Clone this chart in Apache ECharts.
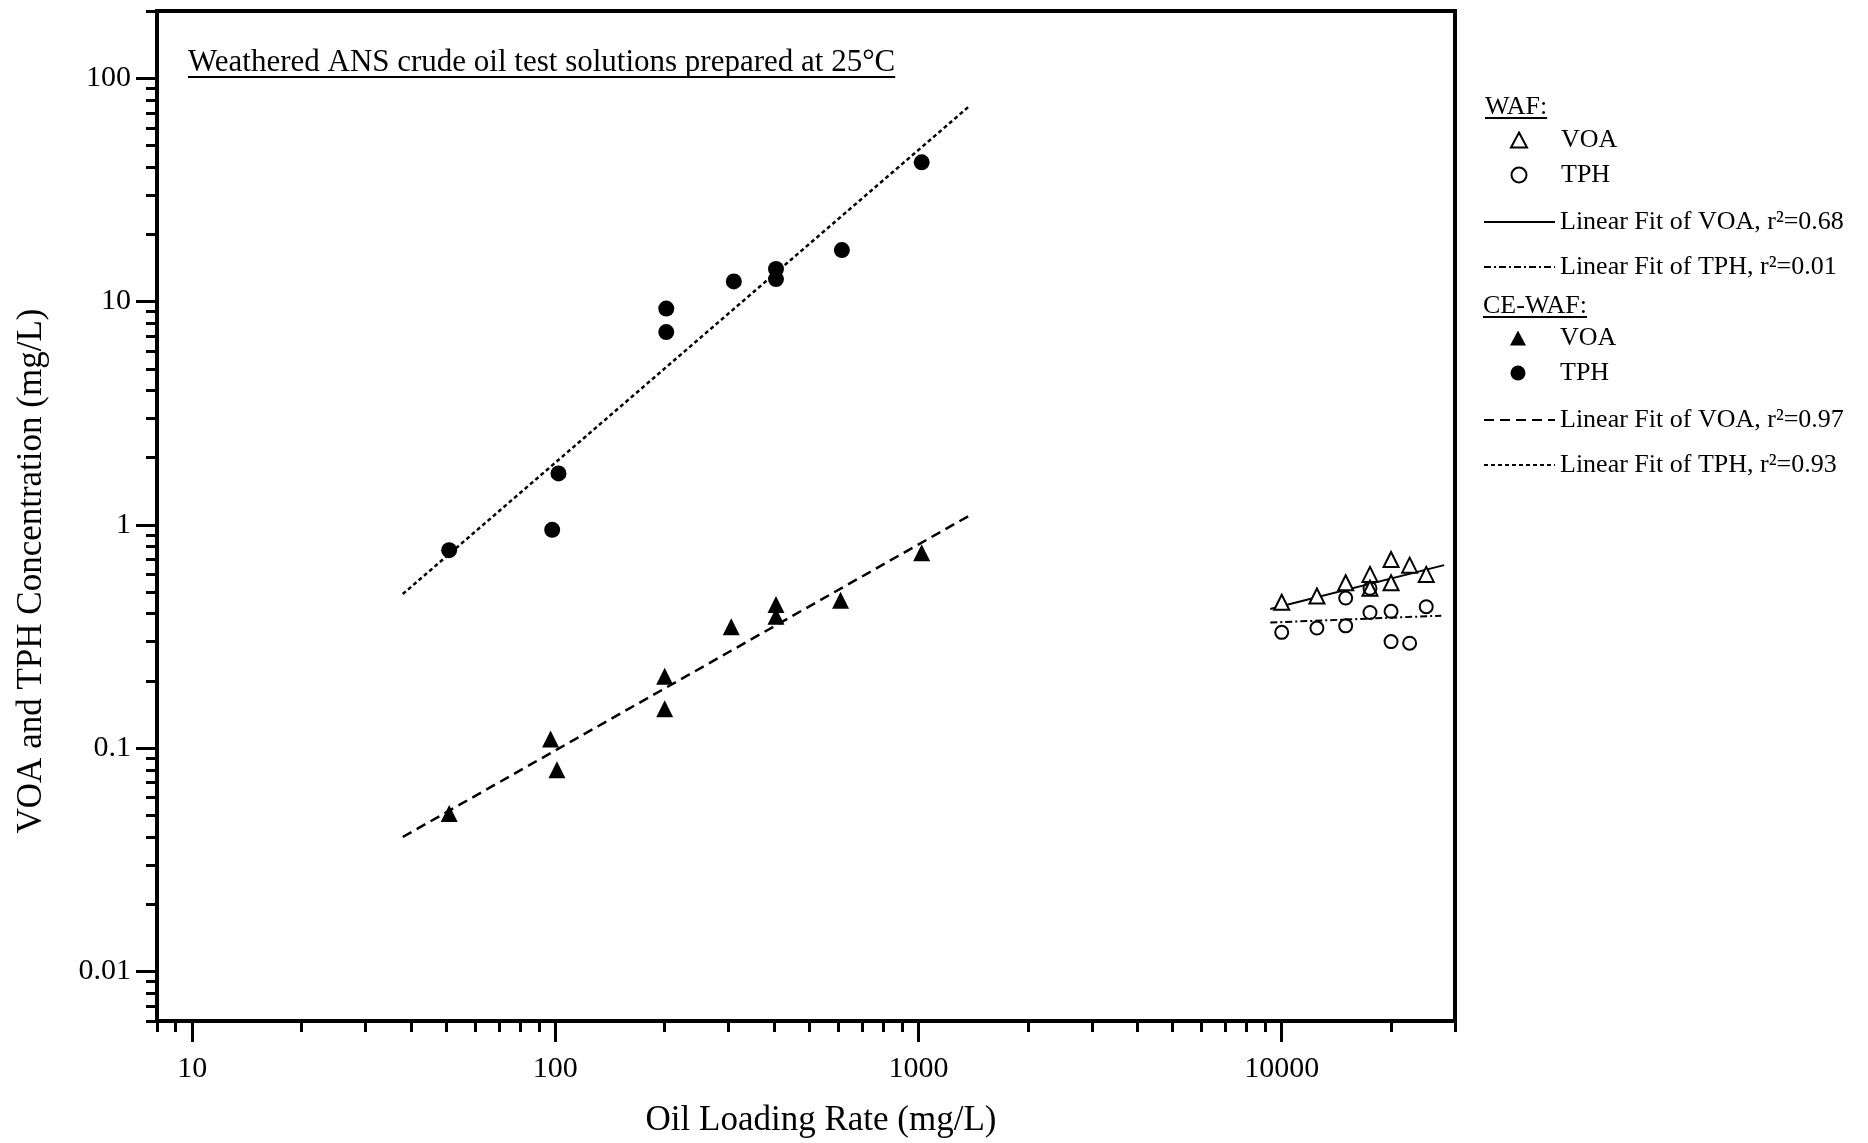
<!DOCTYPE html>
<html><head><meta charset="utf-8">
<script src="https://cdn.jsdelivr.net/npm/echarts@6/dist/echarts.min.js"></script>
<style>html,body{margin:0;padding:0;background:#fff}#c{width:1868px;height:1143px}</style>
</head><body><div id="c"></div>
<script>
// ---- tick values ----
const xMajorTicks = [10, 100, 1000, 10000];
const xMinorTicks = [8, 9, 20, 30, 40, 50, 60, 70, 80, 90, 200, 300, 400, 500, 600, 700, 800, 900,
  2000, 3000, 4000, 5000, 6000, 7000, 8000, 9000, 20000, 30000];
const yMajorTicks = [0.01, 0.1, 1, 10, 100];
const yMinorTicks = [0.006, 0.007, 0.008, 0.009, 0.02, 0.03, 0.04, 0.05, 0.06, 0.07, 0.08, 0.09,
  0.2, 0.3, 0.4, 0.5, 0.6, 0.7, 0.8, 0.9, 2, 3, 4, 5, 6, 7, 8, 9, 20, 30, 40, 50, 60, 70, 80, 90, 200];

// ---- WAF data ----
const wafVoaX = [10000, 12500, 15000, 17500, 17500, 20000, 20000, 22500, 25000];
const wafVoaY = [0.45, 0.48, 0.55, 0.60, 0.52, 0.55, 0.70, 0.66, 0.60];
const wafTphX = [10000, 12500, 15000, 15000, 17500, 17500, 20000, 20000, 22500, 25000];
const wafTphY = [0.33, 0.345, 0.353, 0.47, 0.52, 0.405, 0.41, 0.30, 0.295, 0.43];

// ---- CE-WAF data ----
const ceVoaX = [51, 97, 101, 200, 200, 305, 405, 405, 610, 1020];
const ceVoaY = [0.051, 0.11, 0.08, 0.21, 0.15, 0.35, 0.44, 0.39, 0.46, 0.75];
const ceTphX = [51, 98, 102, 202, 202, 310, 405, 405, 615, 1020];
const ceTphY = [0.77, 0.95, 1.7, 9.3, 7.3, 12.3, 14, 12.6, 17, 42];

// ---- linear fit end points ----
const wafVoaFitX = [9300, 28000];
const wafVoaFitY = [0.42, 0.66];
const wafTphFitX = [9300, 27500];
const wafTphFitY = [0.365, 0.392];
const ceVoaFitX = [38, 1380];
const ceVoaFitY = [0.040, 1.10];
const ceTphFitX = [38, 1380];
const ceTphFitY = [0.49, 75];

const legendNames = {
  'WAF VOA': 'VOA', 'WAF TPH': 'TPH',
  'WAF VOA fit': 'Linear Fit of VOA, r²=0.68', 'WAF TPH fit': 'Linear Fit of TPH, r²=0.01',
  'CE VOA': 'VOA', 'CE TPH': 'TPH',
  'CE VOA fit': 'Linear Fit of VOA, r²=0.97', 'CE TPH fit': 'Linear Fit of TPH, r²=0.93'
};

const FONT = "'Liberation Serif', 'Times New Roman', serif";
const zip = (xs, ys) => xs.map((x, i) => [x, ys[i]]);
const fmt = v => String(+Number(v).toPrecision(6));

const chart = echarts.init(document.getElementById('c'), null, {renderer: 'canvas'});

function measure(text, size) {
  const ctx = document.createElement('canvas').getContext('2d');
  ctx.font = size + 'px ' + FONT;
  return ctx.measureText(text).width;
}

const legendText = {fontFamily: FONT, fontSize: 26, color: '#000', lineHeight: 30};
function markerLegend(names, centerY) {
  return {
    data: names, orient: 'vertical', left: 1510, top: centerY - 15,
    itemWidth: 16, itemHeight: 15, itemGap: 5, padding: 0,
    selectedMode: false, formatter: n => legendNames[n],
    textStyle: Object.assign({padding: [0, 0, 0, 29]}, legendText)
  };
}
function lineLegend(names, centerY) {
  return {
    data: names, orient: 'vertical', left: 1483, top: centerY - 15,
    itemWidth: 71, itemHeight: 16, itemGap: 15, padding: 0,
    selectedMode: false, formatter: n => legendNames[n], textStyle: legendText,
    itemStyle: {color: 'rgba(0,0,0,0)', borderColor: 'rgba(0,0,0,0)', borderWidth: 0, opacity: 0}
  };
}

const titleText = 'Weathered ANS crude oil test solutions prepared at 25°C';
const titleSize = 31;
const titleW = measure(titleText, titleSize);
const wafW = measure('WAF:', 26);
const ceW = measure('CE-WAF:', 26);

const axisLineStyle = {color: '#000', width: 4};
const tickLine = {color: '#000', width: 3};
const labelStyle = {fontFamily: FONT, fontSize: 30, color: '#000'};
const nameStyle = {fontFamily: FONT, fontSize: 35, color: '#000'};

const option = {
  animation: false,
  backgroundColor: '#fff',
  grid: {left: 157, top: 11, width: 1298, height: 1011, show: true, borderColor: '#000', borderWidth: 4},
  xAxis: [
    {type: 'log', min: 8, max: 30000, position: 'bottom',
     axisLine: {show: true, onZero: false, lineStyle: axisLineStyle},
     axisTick: {show: true, customValues: xMajorTicks, length: 21, lineStyle: tickLine},
     axisLabel: {show: true, customValues: xMajorTicks, formatter: fmt, margin: 33, ...labelStyle},
     splitLine: {show: false}, minorTick: {show: false},
     name: 'Oil Loading Rate (mg/L)', nameLocation: 'middle', nameGap: 82,
     nameTextStyle: Object.assign({padding: [0, 0, 0, 30]}, nameStyle)},
    {type: 'log', min: 8, max: 30000, position: 'bottom',
     axisLine: {show: false, onZero: false},
     axisTick: {show: true, customValues: xMinorTicks, length: 11, lineStyle: tickLine},
     axisLabel: {show: false}, splitLine: {show: false}}
  ],
  yAxis: [
    {type: 'log', min: 0.006, max: 200, position: 'left',
     axisLine: {show: true, onZero: false, lineStyle: axisLineStyle},
     axisTick: {show: true, customValues: yMajorTicks, length: 21, lineStyle: tickLine},
     axisLabel: {show: true, customValues: yMajorTicks, formatter: fmt, margin: 26, ...labelStyle},
     splitLine: {show: false},
     name: 'VOA and TPH Concentration (mg/L)', nameLocation: 'middle', nameGap: 108,
     nameTextStyle: Object.assign({padding: [0, 110, 0, 0]}, nameStyle)},
    {type: 'log', min: 0.006, max: 200, position: 'left',
     axisLine: {show: false, onZero: false},
     axisTick: {show: true, customValues: yMinorTicks, length: 11, lineStyle: tickLine},
     axisLabel: {show: false}, splitLine: {show: false}}
  ],
  legend: [
    markerLegend(['WAF VOA', 'WAF TPH'], 140),
    lineLegend(['WAF VOA fit', 'WAF TPH fit'], 222),
    markerLegend(['CE VOA', 'CE TPH'], 338),
    lineLegend(['CE VOA fit', 'CE TPH fit'], 420)
  ],
  graphic: [
    {type: 'text', x: 188, y: 63, silent: true,
     style: {text: titleText, font: titleSize + 'px ' + FONT, fill: '#000', align: 'left', verticalAlign: 'middle'}},
    {type: 'line', silent: true, shape: {x1: 188, y1: 77, x2: 188 + titleW, y2: 77},
     style: {stroke: '#000', lineWidth: 2}},
    {type: 'text', x: 1485, y: 107, silent: true,
     style: {text: 'WAF:', font: '26px ' + FONT, fill: '#000', align: 'left', verticalAlign: 'middle'}},
    {type: 'line', silent: true, shape: {x1: 1485, y1: 118, x2: 1485 + wafW, y2: 118},
     style: {stroke: '#000', lineWidth: 2}},
    {type: 'text', x: 1483, y: 306, silent: true,
     style: {text: 'CE-WAF:', font: '26px ' + FONT, fill: '#000', align: 'left', verticalAlign: 'middle'}},
    {type: 'line', silent: true, shape: {x1: 1483, y1: 317, x2: 1483 + ceW, y2: 317},
     style: {stroke: '#000', lineWidth: 2}}
  ],
  series: [
    {name: 'WAF VOA fit', type: 'line', data: zip(wafVoaFitX, wafVoaFitY), symbol: 'none', z: 2,
     lineStyle: {color: '#000', width: 2, type: 'solid'}, itemStyle: {color: '#000'}},
    {name: 'WAF TPH fit', type: 'line', data: zip(wafTphFitX, wafTphFitY), symbol: 'none', z: 2,
     lineStyle: {color: '#000', width: 2, type: [7, 3, 2, 3]}, itemStyle: {color: '#000'}},
    {name: 'CE VOA fit', type: 'line', data: zip(ceVoaFitX, ceVoaFitY), symbol: 'none', z: 2,
     lineStyle: {color: '#000', width: 2.5, type: [10, 6]}, itemStyle: {color: '#000'}},
    {name: 'CE TPH fit', type: 'line', data: zip(ceTphFitX, ceTphFitY), symbol: 'none', z: 2,
     lineStyle: {color: '#000', width: 2.5, type: [4, 3]}, itemStyle: {color: '#000'}},
    {name: 'WAF VOA', type: 'scatter', data: zip(wafVoaX, wafVoaY), symbol: 'triangle', symbolSize: 15, z: 3,
     itemStyle: {color: '#fff', borderColor: '#000', borderWidth: 2, opacity: 1}},
    {name: 'WAF TPH', type: 'scatter', data: zip(wafTphX, wafTphY), symbol: 'circle', symbolSize: 13, z: 3,
     itemStyle: {color: 'rgba(255,255,255,0)', borderColor: '#000', borderWidth: 2, opacity: 1}},
    {name: 'CE VOA', type: 'scatter', data: zip(ceVoaX, ceVoaY), symbol: 'triangle', symbolSize: 17, z: 3,
     itemStyle: {color: '#000', opacity: 1}},
    {name: 'CE TPH', type: 'scatter', data: zip(ceTphX, ceTphY), symbol: 'circle', symbolSize: 16, z: 3,
     itemStyle: {color: '#000', opacity: 1}}
  ]
};
chart.setOption(option);
</script>
</body></html>
